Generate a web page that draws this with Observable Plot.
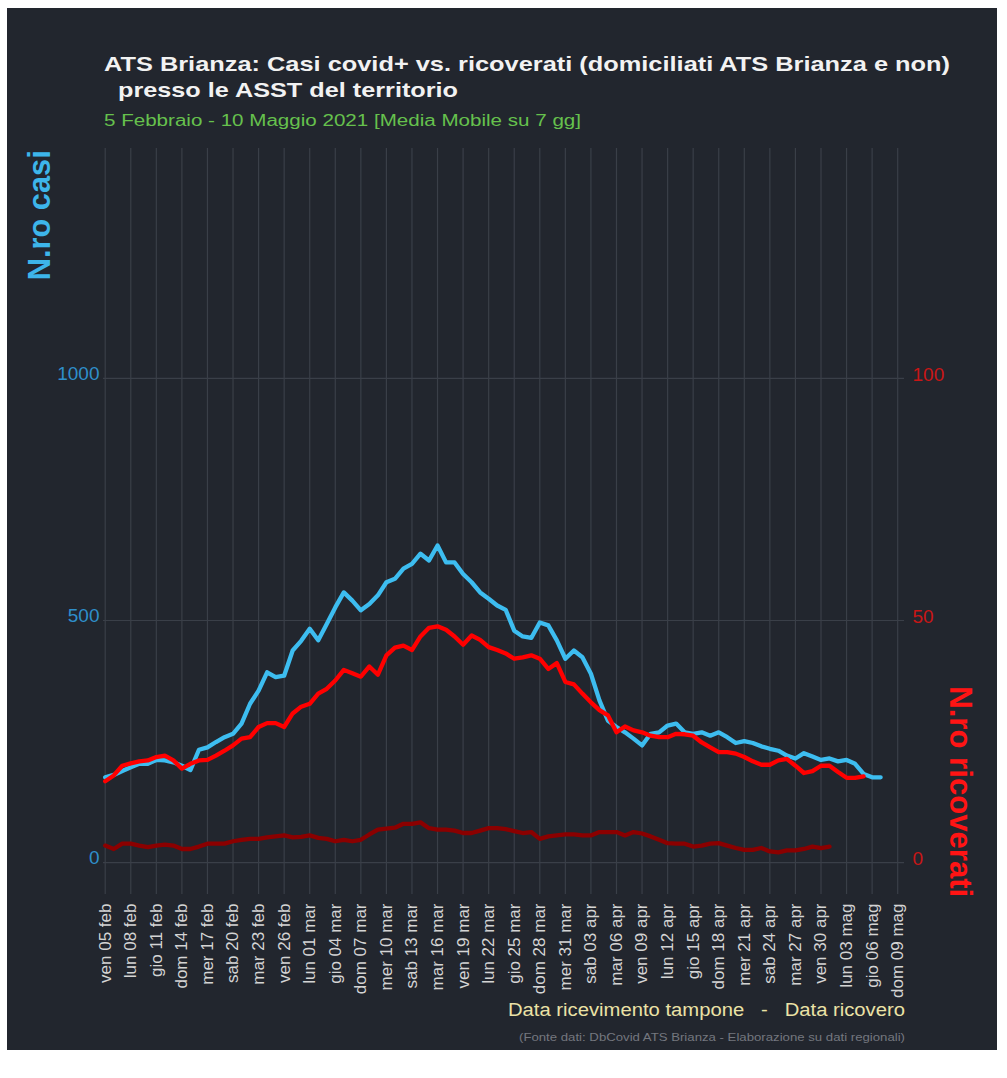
<!DOCTYPE html>
<html><head><meta charset="utf-8">
<script src="https://cdn.jsdelivr.net/npm/d3@7"></script>
<script src="https://cdn.jsdelivr.net/npm/@observablehq/plot@0.6"></script>
<style>
body{margin:0;background:#ffffff;font-family:"Liberation Sans",Arial,sans-serif;}
#panel{position:absolute;left:7px;top:8px;width:990px;height:1042px;background:#22262e;}
#chart{position:absolute;left:0;top:140px;}
.lbl{position:absolute;white-space:pre;line-height:1;font-family:"Liberation Sans",Arial,sans-serif;}
</style></head>
<body>
<div id="panel"></div>
<div id="chart"></div>
<script>
// ---- data (daily 7-day moving averages, starting ven 05 feb 2021) ----
const startDate = "2021-02-05";
const casi = [176,181,189,197,204,204,212,211,207,200,
  191,233,238,249,259,266,287,328,355,393,
  383,386,438,458,483,459,493,527,558,541,
  521,534,552,579,586,607,617,638,624,655,
  620,620,596,579,558,545,531,522,479,467,
  464,496,490,459,421,438,424,390,335,293,
  280,269,256,242,266,269,283,287,269,266,
  269,262,269,259,247,251,247,240,235,231,
  221,215,226,219,212,215,209,212,204,183,
  176,176];
const ricoverati = [16.8,18.0,20.0,20.5,20.9,21.1,21.8,22.1,21.1,19.4,
  20.4,21.1,21.2,22.1,23.1,24.2,25.6,25.9,28.0,28.8,
  28.8,28.0,30.8,32.2,32.8,34.9,35.9,37.6,39.8,39.1,
  38.4,40.5,38.8,42.8,44.4,44.8,43.9,46.7,48.5,48.8,
  48.1,46.7,45.0,46.9,46.0,44.5,43.9,43.2,42.1,42.4,
  42.8,42.1,40.0,41.2,37.3,36.8,34.9,33.1,31.5,30.4,
  26.9,28.1,27.3,26.9,26.2,25.9,25.9,26.6,26.5,26.2,
  24.8,23.8,22.8,22.8,22.5,21.8,20.9,20.2,20.2,21.1,
  21.4,20.0,18.5,18.9,20.0,20.0,18.7,17.5,17.5,17.8];
const ricoveratiAltro = [3.5,2.8,3.9,3.9,3.5,3.2,3.5,3.7,3.5,2.8,
  2.8,3.3,3.9,3.9,3.9,4.4,4.7,4.9,4.9,5.2,
  5.4,5.6,5.2,5.3,5.6,5.1,4.9,4.4,4.7,4.4,
  4.7,5.8,6.8,7.0,7.2,8.0,8.0,8.3,7.1,6.8,
  6.8,6.6,6.1,6.1,6.6,7.1,7.1,6.9,6.5,6.1,
  6.3,4.9,5.4,5.6,5.8,5.8,5.6,5.6,6.3,6.3,
  6.3,5.6,6.3,6.0,5.4,4.7,4.0,3.9,3.9,3.3,
  3.5,3.9,4.0,3.5,3.0,2.6,2.6,3.0,2.3,2.1,
  2.5,2.5,2.8,3.3,3.0,3.3];
const tickLabels = ["ven 05 feb","lun 08 feb","gio 11 feb","dom 14 feb","mer 17 feb","sab 20 feb","mar 23 feb","ven 26 feb",
  "lun 01 mar","gio 04 mar","dom 07 mar","mer 10 mar","sab 13 mar","mar 16 mar","ven 19 mar","lun 22 mar","gio 25 mar","dom 28 mar","mer 31 mar",
  "sab 03 apr","mar 06 apr","ven 09 apr","lun 12 apr","gio 15 apr","dom 18 apr","mer 21 apr","sab 24 apr","mar 27 apr","ven 30 apr",
  "lun 03 mag","gio 06 mag","dom 09 mag"];
const casiTicks = [0, 500, 1000];
const ricoveratiTicks = [0, 50, 100];
const ratio = 10; // right axis (ricoverati) = left axis (casi) / 10

// ---- build ----
const DAY = 864e5;
const t0 = Date.parse(startDate + "T00:00:00Z");
const rows = (arr) => arr.map((v, i) => ({date: new Date(t0 + i * DAY), v}));
const tickDates = tickLabels.map((_, i) => new Date(t0 + i * 3 * DAY));
const labelByTime = new Map(tickDates.map((d, i) => [+d, tickLabels[i]]));

const font = "'Liberation Sans', Arial, sans-serif";
const grid = "#3a3f48";

const chart = Plot.plot({
  width: 1007,
  height: 863,
  marginLeft: 103,
  marginRight: 103,
  marginTop: 8,
  marginBottom: 109,
  style: {background: "transparent", fontFamily: font, overflow: "visible"},
  x: {type: "utc", domain: [new Date(t0 - 0.2 * DAY), new Date(t0 + 93.8 * DAY)]},
  y: {domain: [-66, 1475]},
  marks: [
    Plot.gridX(tickDates, {stroke: grid, strokeOpacity: 1, strokeWidth: 1.2}),
    Plot.gridY(casiTicks, {stroke: grid, strokeOpacity: 1, strokeWidth: 1.2}),
    Plot.axisX(tickDates, {tickRotate: -90, tickSize: 0, tickPadding: 9, fontSize: 17, fill: "#d4d4d4",
      tickFormat: d => labelByTime.get(+d), label: null}),
    Plot.axisY(casiTicks, {anchor: "left", tickSize: 0, tickPadding: 4, fontSize: 19, fill: "#2f8fcb", dy: -5,
      tickFormat: d => String(d), label: null}),
    Plot.axisY(ricoveratiTicks.map(v => v * ratio), {anchor: "right", tickSize: 0, tickPadding: 8, fontSize: 19,
      fill: "#c91616", dy: -4, tickFormat: d => String(d / ratio), label: null}),
    Plot.line(rows(casi), {x: "date", y: "v", stroke: "#3dbdf0", strokeWidth: 4.3, strokeLinejoin: "round"}),
    Plot.line(rows(ricoverati), {x: "date", y: d => d.v * ratio, stroke: "#ff0000", strokeWidth: 4.3, strokeLinejoin: "round"}),
    Plot.line(rows(ricoveratiAltro), {x: "date", y: d => d.v * ratio, stroke: "#8b0000", strokeWidth: 4.3, strokeLinejoin: "round"})
  ]
});
document.getElementById("chart").appendChild(chart);

// ---- texts (placed by baseline, stretched to the reference width) ----
function label(text, o) {
  const el = document.createElement("div");
  el.className = "lbl";
  el.textContent = text;
  const asc = 0.8465 * o.size;
  el.style.fontSize = o.size + "px";
  el.style.fontWeight = o.bold ? "700" : "400";
  el.style.color = o.color;
  el.style.left = o.x + "px";
  el.style.top = (o.y - asc) + "px";
  el.style.transformOrigin = `0px ${asc}px`;
  document.body.appendChild(el);
  const w = el.getBoundingClientRect().width;
  const sx = o.width ? o.width / w : 1;
  el.style.transform = `${o.rotate ? `rotate(${o.rotate}deg) ` : ""}scaleX(${sx})`;
}
label("ATS Brianza: Casi covid+ vs. ricoverati (domiciliati ATS Brianza e non)", {x: 104, y: 71, size: 21, bold: true, color: "#f2f2f2", width: 846});
label("presso le ASST del territorio", {x: 118, y: 97, size: 21, bold: true, color: "#f2f2f2", width: 340});
label("5 Febbraio - 10 Maggio 2021 [Media Mobile su 7 gg]", {x: 104, y: 127, size: 16, color: "#66c14d", width: 477});
label("N.ro casi", {x: 50, y: 280, size: 31, bold: true, color: "#3db5ea", rotate: -90, width: 130});
label("N.ro ricoverati", {x: 950, y: 686, size: 31, bold: true, color: "#ff1414", rotate: 90, width: 211});
label("Data ricevimento tampone   -   Data ricovero", {x: 508, y: 1016.5, size: 18, color: "#ebe2a6", width: 397});
label("(Fonte dati: DbCovid ATS Brianza - Elaborazione su dati regionali)", {x: 519, y: 1042, size: 11.5, color: "#74777f", width: 386});
</script>
</body></html>
